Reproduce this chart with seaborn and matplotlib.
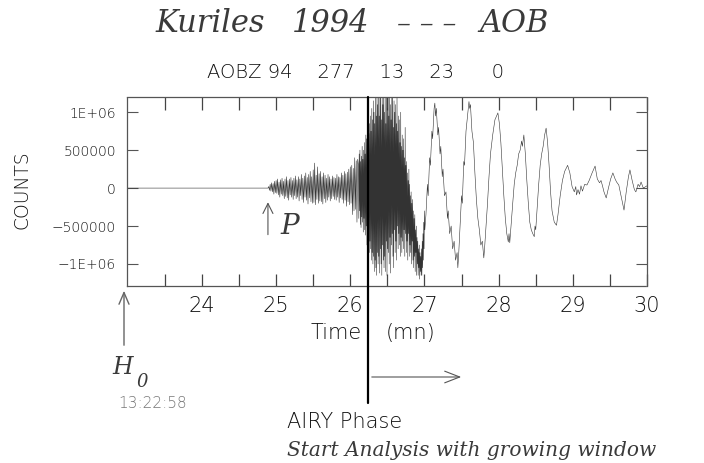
import numpy as np
import pandas as pd
import matplotlib
matplotlib.use("Agg")
import matplotlib.pyplot as plt
import matplotlib.transforms as mtransforms
import seaborn as sns

# ---------------- data (amplitudes in millions of counts) ----------------
quiet_t = [22.98, 24.89]
quiet_v = [0.0, 0.0]

# body-wave coda after P, sampled every 0.01 min starting at 24.89
coda_start = 24.89
coda_step = 0.01
coda_v = [
    0, 0.02, -0.03, 0.05, -0.04, 0.07, -0.05, 0.06, -0.08, 0.09, -0.06,
    0.10, -0.07, 0.12, -0.09, 0.08, -0.12, 0.11, -0.08, 0.13, -0.10,
    0.09, -0.14, 0.12, -0.11, 0.15, -0.13, 0.10, -0.16, 0.12, -0.09,
    0.14, -0.12, 0.10, -0.15, 0.13, -0.10, 0.16, -0.14, 0.11, -0.12,
    0.15, -0.17, 0.12, -0.10, 0.18, -0.15, 0.13, -0.19, 0.16, -0.12,
    0.20, -0.16, 0.14, -0.21, 0.18, -0.13, 0.22, -0.18, 0.15, -0.20,
    0.24, -0.19, 0.33, -0.22, 0.17, -0.15, 0.28, -0.20, 0.19, -0.17,
    0.22, -0.18, 0.15, -0.21, 0.20, -0.14, 0.17, -0.19, 0.13, -0.16,
    0.18, -0.12, 0.15, -0.17, 0.12, -0.14, 0.16, -0.11, 0.14, -0.15,
    0.13, -0.16, 0.18, -0.12, 0.15, -0.19, 0.14, -0.13, 0.20, -0.15,
    0.17, -0.20, 0.22, -0.16, 0.19, -0.24, 0.21, -0.18, 0.25, -0.22,
    0.28, -0.20, 0.30, -0.35, 0.26, -0.30, 0.40, -0.28, 0.36, -0.45, 0.38,
]

# Airy-phase burst, sampled every 0.005 min starting at 26.11
burst_start = 26.11
burst_step = 0.005
burst_v = [
    0.30, -0.40, 0.45, -0.30, 0.50, -0.48, 0.35, -0.52, 0.42, -0.38,
    0.55, -0.45, 0.38, -0.58, 0.50, -0.40, 0.60, -0.55, 0.45, -0.62,
    0.70, -0.50, 0.65, -0.75, 0.55, -0.68, 0.80, -0.60, 0.72, -0.85,
    0.85, -0.70, 0.95, -0.80, 0.75, -0.95, 1.05, -0.85, 0.90, -1.00,
    1.15, -0.90, 1.00, -1.10, 0.85, -0.95, 1.25, -1.05, 0.95, -1.15,
    1.25, -0.85, 1.10, -1.00, 1.30, -0.90, 0.95, -1.12, 1.20, -0.80,
    1.30, -1.00, 0.90, -1.15, 1.25, -0.75, 1.10, -0.95, 1.30, -1.05,
    1.00, -0.90, 1.28, -1.10, 0.85, -0.70, 1.20, -1.15, 1.05, -0.80,
    1.30, -0.85, 0.95, -1.00, 1.25, -0.65, 1.10, -1.12, 0.90, -0.75,
    1.20, -0.60, 1.30, -0.90, 0.80, -1.05, 1.15, -0.55, 1.00, -0.85,
    1.10, -0.70, 0.85, -0.95, 1.20, -0.50, 0.75, -0.80, 0.95, -0.60,
    0.90, -0.75, 0.60, -0.90, 1.00, -0.65, 0.55, -0.85, 0.70, -0.70,
    0.50, -0.80, 0.65, -0.55, 0.40, -0.90, 0.80, -0.60, 0.30, -0.85,
    0.35, -0.70, 0.20, -0.95, 0.10, -0.60, 0.25, -0.90, 0.05, -0.75,
    -0.10, -0.85, -0.05, -1.00, -0.20, -0.70, -0.15, -0.95, -0.30, -1.05,
    -0.40, -0.90, -0.35, -1.10, -0.55, -0.85, -0.50, -1.15, -0.65, -1.00,
    -0.70, -1.15, -0.80, -1.05, -0.75, -1.20, -0.85, -1.10, -0.90, -1.15,
    -0.80, -1.15, -0.70, -1.05, -0.60, -0.95, -0.45, -0.80, -0.30, -0.55,
]

# long-period surface waves
surf_t = [27.02, 27.04, 27.05, 27.07, 27.08, 27.10, 27.11, 27.13, 27.14, 27.15,
          27.16, 27.18, 27.19, 27.21, 27.22, 27.24, 27.25, 27.27, 27.29, 27.31,
          27.32, 27.34, 27.36, 27.38, 27.40, 27.42, 27.44, 27.45, 27.46, 27.48,
          27.50, 27.51, 27.53, 27.54, 27.56, 27.58, 27.60, 27.61, 27.62, 27.64,
          27.66, 27.68, 27.70, 27.72, 27.74, 27.76, 27.78, 27.80, 27.81, 27.83,
          27.85, 27.87, 27.89, 27.92, 27.95, 27.99, 28.01, 28.03, 28.05, 28.07,
          28.09, 28.11, 28.13, 28.14, 28.15, 28.17, 28.19, 28.21, 28.23, 28.25,
          28.27, 28.29, 28.31, 28.32, 28.34, 28.36, 28.38, 28.40, 28.42, 28.44,
          28.46, 28.48, 28.49, 28.50, 28.52, 28.54, 28.56, 28.58, 28.60, 28.62,
          28.64, 28.66, 28.68, 28.70, 28.72, 28.75, 28.78, 28.80, 28.83, 28.86,
          28.89, 28.93, 28.96, 28.99, 29.02, 29.04, 29.05, 29.07, 29.09, 29.11,
          29.13, 29.16, 29.19, 29.22, 29.26, 29.30, 29.33, 29.36, 29.38, 29.40,
          29.42, 29.45, 29.48, 29.51, 29.54, 29.57, 29.59, 29.62, 29.65, 29.69,
          29.72, 29.75, 29.77, 29.80, 29.83, 29.85, 29.88, 29.90, 29.92, 29.95,
          30.00]
surf_v = [-0.35, 0.05, -0.10, 0.40, 0.30, 0.75, 0.65, 1.05, 1.12, 0.95,
          1.05, 0.70, 0.80, 0.45, 0.55, 0.15, 0.25, -0.10, -0.05, -0.40,
          -0.30, -0.60, -0.50, -0.80, -0.70, -0.95, -0.85, -1.05, -0.90, -0.50,
          -0.10, -0.20, 0.35, 0.30, 0.75, 0.95, 1.14, 1.05, 1.10, 0.75,
          0.60, 0.20, -0.15, -0.40, -0.55, -0.75, -0.70, -0.92, -0.80, -0.50,
          -0.20, 0.15, 0.45, 0.70, 0.90, 0.99, 0.85, 0.60, 0.25, -0.10,
          -0.40, -0.60, -0.71, -0.60, -0.72, -0.45, -0.20, 0.05, 0.20, 0.30,
          0.45, 0.50, 0.62, 0.55, 0.70, 0.45, 0.10, -0.20, -0.45, -0.55,
          -0.60, -0.64, -0.50, -0.55, -0.25, 0.05, 0.30, 0.45, 0.55, 0.70,
          0.79, 0.60, 0.30, -0.05, -0.30, -0.45, -0.49, -0.35, -0.10, 0.10,
          0.22, 0.30, 0.20, 0.02, -0.05, 0.02, -0.09, -0.02, -0.08, 0.03,
          -0.04, 0.05, 0.04, 0.10, 0.20, 0.29, 0.12, 0.07, 0.10, 0.03,
          -0.05, -0.13, 0.00, 0.12, 0.20, 0.12, 0.08, 0.04, -0.10, -0.29,
          -0.05, 0.15, 0.24, 0.10, -0.02, -0.05, 0.05, 0.02, 0.08, 0.00,
          0.03]

x_tick_minutes = [24, 25, 26, 27, 28, 29, 30]
x_half_minutes = [23.5, 24.5, 25.5, 26.5, 27.5, 28.5, 29.5]
y_tick_vals = [1e6, 5e5, 0, -5e5, -1e6]
y_tick_labels = ["1E+06", "500000", "0", "\u2212500000", "\u22121E+06"]
p_time = 24.89
airy_time = 26.24

# ---------------- assemble trace ----------------
coda_t = coda_start + coda_step * np.arange(len(coda_v))
burst_t = burst_start + burst_step * np.arange(len(burst_v))
trace = pd.DataFrame({
    "time": np.concatenate([quiet_t, coda_t, burst_t, surf_t]),
    "counts": np.concatenate([quiet_v, coda_v, burst_v, surf_v]) * 1e6,
})

sns.set_theme(style="white")
plt.rcParams["font.family"] = ["DejaVu Sans"]

W, H = 704, 463
fig = plt.figure(figsize=(W / 100, H / 100), dpi=100)
L, R, T, B = 127, 647, 97, 286
ax = fig.add_axes([L / W, 1 - B / H, (R - L) / W, (B - T) / H])

def F(x, y):
    return (x / W, 1 - y / H)

sns.lineplot(data=trace, x="time", y="counts", ax=ax, sort=False,
             estimator=None, color="#333333", linewidth=0.4)

ax.set_xlim(22.99, 30.0)
ax.set_ylim(-1.29e6, 1.2e6)
ax.set_xticks(x_tick_minutes)
ax.set_xticklabels([str(m) for m in x_tick_minutes])
ax.set_xticks(x_half_minutes, minor=True)
ax.set_yticks(y_tick_vals)
ax.set_yticklabels(y_tick_labels)
ax.set_xlabel("")
ax.set_ylabel("")

ax.tick_params(axis="x", which="both", direction="in", top=True, bottom=True,
               length=9, width=0.9, color="#444444", pad=7,
               labelsize=15, labelcolor="#111111")
ax.tick_params(axis="y", which="major", direction="in", left=True, right=True,
               length=8, width=0.8, color="#555555", pad=8,
               labelsize=10, labelcolor="#111111")
for lab in ax.get_xticklabels() + ax.get_yticklabels():
    lab.set_fontweight("light")
for s in ax.spines.values():
    s.set_linestyle((0, (1, 1)))
    s.set_linewidth(0.9)
    s.set_color("#555555")

# texts ---------------------------------------------------------------
serif_it = dict(family=["DejaVu Serif"], style="italic", color="#3a3a3a")
fig.text(*F(210, 24), "Kuriles", fontsize=22, ha="center", va="center", **serif_it)
fig.text(*F(331, 24), "1994", fontsize=22, ha="center", va="center", **serif_it)
fig.text(*F(427, 24), "\u2013 \u2013 \u2013", fontsize=20, ha="center", va="center", **serif_it)
fig.text(*F(514, 24), "AOB", fontsize=22, ha="center", va="center", **serif_it)

sans_l = dict(color="#111111", fontweight="light")
fig.text(*F(207, 72), "AOBZ 94    277    13    23      0", fontsize=14,
         ha="left", va="center", **sans_l)

fig.text(*F(22, 190), "COUNTS", fontsize=13.5, rotation=90, ha="center",
         va="center", **sans_l)

fig.text(*F(362, 333), "Time", fontsize=15, ha="right", va="center", **sans_l)
fig.text(*F(386, 333), "(mn)", fontsize=15, ha="left", va="center", **sans_l)

# P arrival
ax.annotate("", xy=(p_time, -0.15e6), xytext=(p_time, -0.65e6),
            arrowprops=dict(arrowstyle="->,head_length=0.6,head_width=0.3",
                            color="#555555", lw=0.8))
ax.text(25.19, -0.50e6, "P", fontsize=20, ha="center", va="center", **serif_it)

# H0 arrow
ax.annotate("", xy=F(124, 288), xycoords="figure fraction",
            xytext=F(124, 348), textcoords="figure fraction",
            arrowprops=dict(arrowstyle="->,head_length=0.7,head_width=0.3",
                            color="#666666", lw=1.0))
fig.text(*F(123, 368), "H", fontsize=17, ha="center", va="center", **serif_it)
fig.text(*F(142, 382), "0", fontsize=13, ha="center", va="center", **serif_it)
fig.text(*F(153, 404), "13:22:58", fontsize=11, ha="center", va="center",
         color="#777777", fontweight="light")

# Airy phase marker line
blend = mtransforms.blended_transform_factory(ax.transData, fig.transFigure)
ax.plot([airy_time, airy_time], [1 - T / H, 1 - 403 / H], transform=blend,
        color="black", lw=1.6, clip_on=False, zorder=5)
# growing window arrow
ax.annotate("", xy=F(464, 377), xycoords="figure fraction",
            xytext=F(369, 377), textcoords="figure fraction",
            arrowprops=dict(arrowstyle="->,head_length=0.9,head_width=0.35",
                            color="#555555", lw=0.8))

fig.text(*F(287, 422), "AIRY Phase", fontsize=15, ha="left", va="center",
         **sans_l)
fig.text(*F(287, 450), "Start Analysis with growing window", fontsize=14.5,
         ha="left", va="center", **serif_it)

fig.savefig("out.png", dpi=100)
